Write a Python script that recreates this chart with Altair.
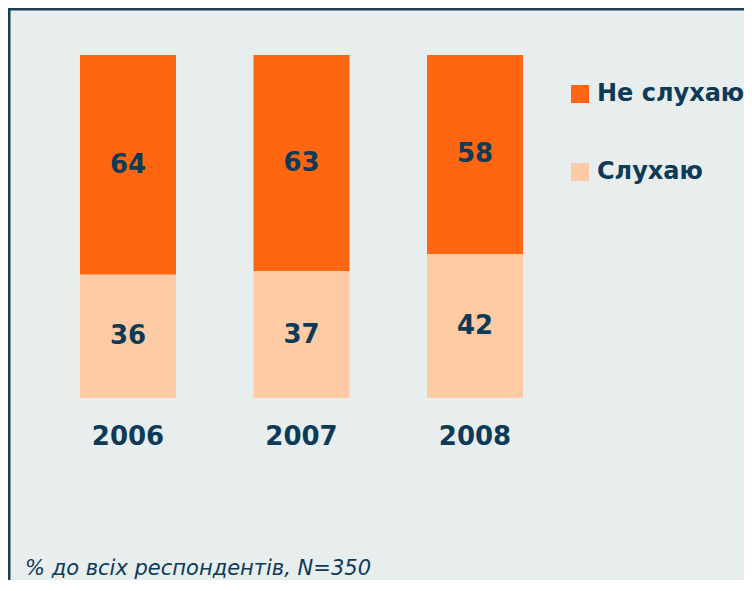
import altair as alt
import pandas as pd

years = ["2006", "2007", "2008"]
categories = ["Не слухаю", "Слухаю"]
not_listen = [64, 63, 58]
listen = [36, 37, 42]
footnote = "% до всіх респондентів, N=350"

rows = []
for i, y in enumerate(years):
    rows.append({"year": y, "category": categories[1], "value": listen[i], "ord": 0})
    rows.append({"year": y, "category": categories[0], "value": not_listen[i], "ord": 1})
df = pd.DataFrame(rows)

NAVY = "#0d3a57"
FONT = "DejaVu Sans"

xscale = alt.Scale(domain=years, range=[72, 515], paddingInner=0.4467, paddingOuter=0)
yscale = alt.Scale(domain=[0, 100], range=[390, 47])
cscale = alt.Scale(domain=categories, range=["#ff6611", "#ffcba4"])

base = alt.Chart(df)

bars = base.mark_bar().encode(
    x=alt.X("year:N", scale=xscale, axis=None),
    y=alt.Y("value:Q", stack="zero", scale=yscale, axis=None),
    color=alt.Color(
        "category:N",
        scale=cscale,
        legend=alt.Legend(
            title=None,
            orient="none",
            legendX=560,
            legendY=74,
            symbolType="square",
            symbolSize=324,
            symbolStrokeWidth=0,
            labelFont=FONT,
            labelFontSize=24,
            labelFontWeight="bold",
            labelColor=NAVY,
            labelOffset=5,
            rowPadding=54,
            padding=0,
            labelLimit=400,
        ),
    ),
    order=alt.Order("ord:Q"),
)

labels = base.transform_stack(
    stack="value", groupby=["year"], as_=["v0", "v1"], sort=[alt.SortField("ord")]
).transform_calculate(mid="(datum.v0 + datum.v1) / 2").mark_text(
    font=FONT, fontSize=26, fontWeight="bold", color=NAVY, baseline="middle"
).encode(
    x=alt.X("year:N", scale=xscale, axis=None),
    y=alt.Y("mid:Q", scale=yscale, axis=None),
    text=alt.Text("value:Q"),
)

year_labels = alt.Chart(pd.DataFrame({"year": years})).mark_text(
    font=FONT, fontSize=26, fontWeight="bold", color=NAVY, baseline="middle"
).encode(
    x=alt.X("year:N", scale=xscale, axis=None),
    y=alt.value(429),
    text="year:N",
)

foot = alt.Chart(pd.DataFrame({"t": [footnote]})).mark_text(
    font=FONT, fontSize=21, fontStyle="italic", color=NAVY, align="left", baseline="alphabetic"
).encode(x=alt.value(17), y=alt.value(567), text="t:N")

left_border = alt.Chart(pd.DataFrame({"a": [0]})).mark_rule(color="#1b3f54", strokeWidth=3).encode(
    x=alt.value(1), y=alt.value(0), y2=alt.value(600)
)
top_border = alt.Chart(pd.DataFrame({"a": [0]})).mark_rule(color="#1b3f54", strokeWidth=3).encode(
    x=alt.value(0), x2=alt.value(800), y=alt.value(1)
)

chart = alt.layer(bars, labels, year_labels, foot, left_border, top_border).properties(
    width=736,
    height=572,
    autosize=alt.AutoSizeParams(type="none"),
    padding=0,
    background="#e8edee",
).configure_view(stroke=None)

chart.save("out.html", embed_options={"renderer": "svg", "actions": False})
